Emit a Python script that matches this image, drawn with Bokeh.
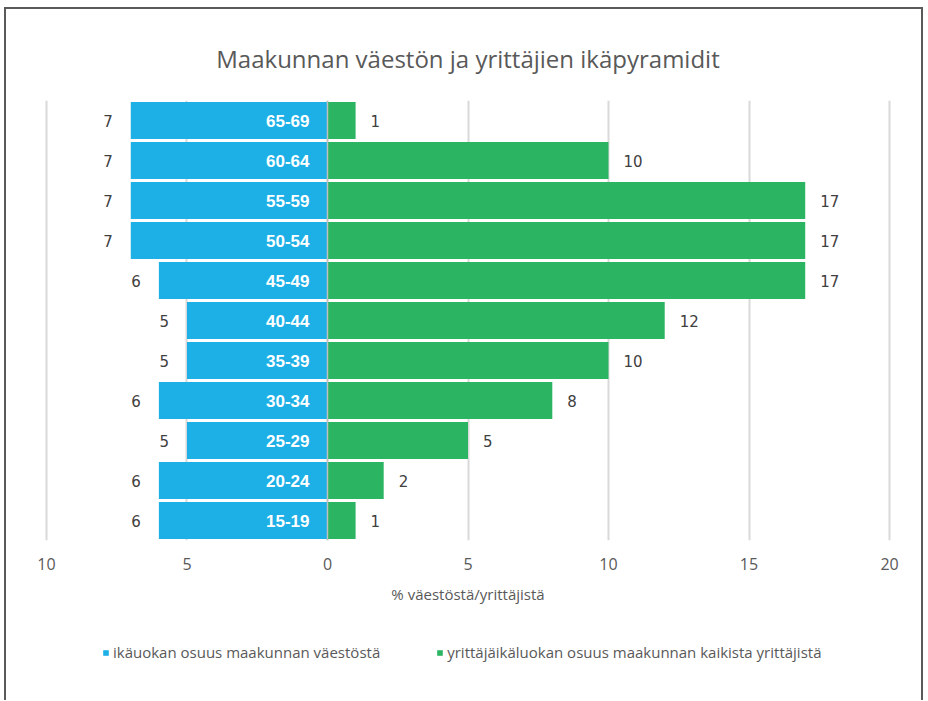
from bokeh.plotting import figure
from bokeh.layouts import column
from bokeh.models import (ColumnDataSource, FactorRange, Range1d, CustomJSTickFormatter,
                          Span, Legend, LegendItem, FixedTicker)
from bokeh.core.properties import value
from bokeh.embed import file_html
from bokeh.resources import INLINE

# ---- data ----
age_groups = ["15-19", "20-24", "25-29", "30-34", "35-39", "40-44",
              "45-49", "50-54", "55-59", "60-64", "65-69"]
population_share = [6, 6, 5, 6, 5, 5, 6, 7, 7, 7, 7]
entrepreneur_share = [1, 2, 5, 8, 10, 12, 17, 17, 17, 10, 1]
x_ticks = [-10, -5, 0, 5, 10, 15, 20]
series_names = ["ikäuokan osuus maakunnan väestöstä",
                "yrittäjäikäluokan osuus maakunnan kaikista yrittäjistä"]
title_text = "Maakunnan väestön ja yrittäjien ikäpyramidit"
x_title = "% väestöstä/yrittäjistä"

BLUE = "#1DB0E6"
GREEN = "#2BB462"
FONT = "Open Sans"
W = 915

src = ColumnDataSource(dict(
    age=age_groups,
    pop_neg=[-v for v in population_share],
    pop_lbl=[str(v) for v in population_share],
    ent=entrepreneur_share,
    ent_lbl=[str(v) for v in entrepreneur_share],
    zero=[0] * len(age_groups),
))

p = figure(width=W, height=611, output_backend="svg", toolbar_location=None,
           y_range=FactorRange(factors=age_groups, range_padding=0),
           x_range=Range1d(-10.07, 20.07),
           min_border_left=38, min_border_right=30, min_border_top=91,
           min_border_bottom=80)

p.title.text = title_text
p.title.align = "center"
p.title.text_font_size = "24px"
p.title.text_font = FONT
p.title.text_font_style = "normal"
p.title.text_color = "#595959"
p.title.standoff = 51

p.outline_line_color = None
p.background_fill_color = "white"
p.border_fill_color = "white"

p.yaxis.visible = False
p.ygrid.grid_line_color = None
p.xgrid.grid_line_color = "#d9d9d9"
p.xgrid.grid_line_width = 2

xa = p.xaxis[0]
xa.ticker = FixedTicker(ticks=x_ticks)
xa.formatter = CustomJSTickFormatter(code="return String(Math.abs(tick));")
xa.axis_line_color = None
xa.major_tick_line_color = None
xa.minor_tick_line_color = None
xa.major_label_standoff = 11
xa.major_label_text_font = FONT
xa.major_label_text_font_size = "16px"
xa.major_label_text_color = "#595959"
xa.axis_label = x_title
xa.axis_label_standoff = 11
xa.axis_label_text_font = FONT
xa.axis_label_text_font_size = "15px"
xa.axis_label_text_font_style = "normal"
xa.axis_label_text_color = "#595959"

p.hbar(y="age", left="pop_neg", right="zero", height=0.93, source=src,
       fill_color=BLUE, line_color=None)
p.hbar(y="age", left="zero", right="ent", height=0.93, source=src,
       fill_color=GREEN, line_color=None)

p.add_layout(Span(location=0, dimension="height", line_color="#c0c0c0", line_width=1.5,
                  level="overlay"))

# category labels inside the blue bars
p.text(x="zero", y="age", text="age", source=src, x_offset=-18,
       text_align="right", text_baseline="middle", text_color="white",
       text_font=value("Liberation Sans"), text_font_style="bold", text_font_size="17px")
# value labels
p.text(x="pop_neg", y="age", text="pop_lbl", source=src, x_offset=-18,
       text_align="right", text_baseline="middle", text_color="#404040",
       text_font=value("DejaVu Sans"), text_font_size="15px")
p.text(x="ent", y="age", text="ent_lbl", source=src, x_offset=15,
       text_align="left", text_baseline="middle", text_color="#404040",
       text_font=value("DejaVu Sans"), text_font_size="15px")

# ---- legend strip (separate figure; its bars have zero height) ----
lg = figure(width=W, height=80, output_backend="svg", toolbar_location=None,
            x_range=Range1d(-10, 20), y_range=FactorRange(factors=age_groups),
            min_border=0)
lg.axis.visible = False
lg.grid.grid_line_color = None
lg.outline_line_color = None
l1 = lg.hbar(y="age", left="pop_neg", right="zero", height=0, source=src,
             fill_color=BLUE, line_color=None)
l2 = lg.hbar(y="age", left="zero", right="ent", height=0, source=src,
             fill_color=GREEN, line_color=None)
legend = Legend(items=[LegendItem(label=series_names[0], renderers=[l1]),
                       LegendItem(label=series_names[1], renderers=[l2])],
                orientation="horizontal", location=(58, 38),
                glyph_width=7, glyph_height=7, label_standoff=4, spacing=56,
                label_text_font=FONT, label_text_font_size="15px",
                label_text_color="#595959", border_line_color=None,
                background_fill_alpha=0, margin=0, padding=3)
lg.add_layout(legend, "center")

layout = column(p, lg, spacing=0,
                styles={"border-top": "2px solid #5a5a5a",
                        "border-left": "2px solid #5a5a5a",
                        "border-right": "2px solid #5a5a5a",
                        "margin-left": "4px", "margin-top": "7px"})

open("out.html", "w").write(file_html(layout, INLINE))
